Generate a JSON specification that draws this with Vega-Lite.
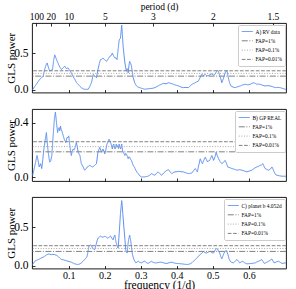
{
  "$schema": "https://vega.github.io/schema/vega-lite/v6.json",
  "padding": {"left": 5, "top": 0, "right": 0, "bottom": 0},
  "spacing": 12,
  "datasets": {
    "a": [
      {"f":0.000,"p":0.0},{"f":0.005,"p":0.04},{"f":0.010,"p":0.073},{"f":0.015,"p":0.11},{"f":0.019,"p":0.14},{"f":0.024,"p":0.16},{"f":0.029,"p":0.186},{"f":0.033,"p":0.277},{"f":0.037,"p":0.34},{"f":0.040,"p":0.368},{"f":0.044,"p":0.3},{"f":0.047,"p":0.255},{"f":0.051,"p":0.27},{"f":0.055,"p":0.277},{"f":0.058,"p":0.4},{"f":0.061,"p":0.48},{"f":0.065,"p":0.43},{"f":0.070,"p":0.368},{"f":0.075,"p":0.31},{"f":0.080,"p":0.277},{"f":0.084,"p":0.3},{"f":0.089,"p":0.323},{"f":0.093,"p":0.29},{"f":0.098,"p":0.3},{"f":0.102,"p":0.27},{"f":0.107,"p":0.232},{"f":0.112,"p":0.18},{"f":0.117,"p":0.14},{"f":0.121,"p":0.1},{"f":0.126,"p":0.073},{"f":0.131,"p":0.045},{"f":0.135,"p":0.027},{"f":0.140,"p":0.01},{"f":0.144,"p":0.005},{"f":0.149,"p":0.004},{"f":0.154,"p":0.005},{"f":0.158,"p":0.04},{"f":0.163,"p":0.095},{"f":0.168,"p":0.21},{"f":0.172,"p":0.19},{"f":0.177,"p":0.164},{"f":0.181,"p":0.277},{"f":0.185,"p":0.36},{"f":0.188,"p":0.414},{"f":0.192,"p":0.42},{"f":0.195,"p":0.436},{"f":0.200,"p":0.41},{"f":0.205,"p":0.39},{"f":0.210,"p":0.43},{"f":0.214,"p":0.459},{"f":0.218,"p":0.47},{"f":0.221,"p":0.505},{"f":0.225,"p":0.46},{"f":0.228,"p":0.436},{"f":0.231,"p":0.44},{"f":0.234,"p":0.414},{"f":0.237,"p":0.55},{"f":0.240,"p":0.686},{"f":0.2435,"p":0.71},{"f":0.247,"p":0.89},{"f":0.249,"p":0.75},{"f":0.251,"p":0.595},{"f":0.254,"p":0.45},{"f":0.256,"p":0.368},{"f":0.258,"p":0.3},{"f":0.260,"p":0.255},{"f":0.262,"p":0.29},{"f":0.265,"p":0.232},{"f":0.267,"p":0.33},{"f":0.269,"p":0.39},{"f":0.272,"p":0.36},{"f":0.274,"p":0.323},{"f":0.277,"p":0.23},{"f":0.279,"p":0.164},{"f":0.283,"p":0.095},{"f":0.288,"p":0.05},{"f":0.292,"p":0.035},{"f":0.297,"p":0.027},{"f":0.304,"p":0.015},{"f":0.311,"p":0.005},{"f":0.318,"p":0.01},{"f":0.325,"p":0.014},{"f":0.335,"p":0.02},{"f":0.344,"p":0.04},{"f":0.353,"p":0.065},{"f":0.363,"p":0.086},{"f":0.370,"p":0.08},{"f":0.377,"p":0.095},{"f":0.384,"p":0.085},{"f":0.391,"p":0.073},{"f":0.398,"p":0.06},{"f":0.405,"p":0.05},{"f":0.412,"p":0.035},{"f":0.418,"p":0.027},{"f":0.425,"p":0.03},{"f":0.432,"p":0.027},{"f":0.437,"p":0.05},{"f":0.442,"p":0.073},{"f":0.447,"p":0.085},{"f":0.451,"p":0.095},{"f":0.456,"p":0.11},{"f":0.460,"p":0.118},{"f":0.465,"p":0.17},{"f":0.469,"p":0.21},{"f":0.474,"p":0.195},{"f":0.479,"p":0.21},{"f":0.483,"p":0.19},{"f":0.488,"p":0.195},{"f":0.492,"p":0.205},{"f":0.497,"p":0.218},{"f":0.501,"p":0.2},{"f":0.506,"p":0.21},{"f":0.509,"p":0.24},{"f":0.513,"p":0.268},{"f":0.516,"p":0.24},{"f":0.518,"p":0.21},{"f":0.522,"p":0.15},{"f":0.525,"p":0.095},{"f":0.529,"p":0.15},{"f":0.534,"p":0.232},{"f":0.539,"p":0.268},{"f":0.543,"p":0.164},{"f":0.546,"p":0.1},{"f":0.550,"p":0.05},{"f":0.556,"p":0.035},{"f":0.562,"p":0.027},{"f":0.569,"p":0.04},{"f":0.576,"p":0.05},{"f":0.583,"p":0.065},{"f":0.590,"p":0.073},{"f":0.597,"p":0.065},{"f":0.604,"p":0.073},{"f":0.608,"p":0.085},{"f":0.613,"p":0.095},{"f":0.618,"p":0.085},{"f":0.622,"p":0.073},{"f":0.627,"p":0.078},{"f":0.631,"p":0.073},{"f":0.638,"p":0.06},{"f":0.645,"p":0.05},{"f":0.652,"p":0.055},{"f":0.659,"p":0.05},{"f":0.666,"p":0.04},{"f":0.673,"p":0.027},{"f":0.680,"p":0.03},{"f":0.687,"p":0.027},{"f":0.694,"p":0.015},{"f":0.701,"p":0.005},{"f":0.703,"p":0.005}
    ],
    "b": [
      {"f":0.000,"p":0.014},{"f":0.003,"p":0.05},{"f":0.008,"p":0.11},{"f":0.012,"p":0.159},{"f":0.015,"p":0.12},{"f":0.018,"p":0.075},{"f":0.022,"p":0.099},{"f":0.025,"p":0.063},{"f":0.028,"p":0.13},{"f":0.031,"p":0.207},{"f":0.035,"p":0.279},{"f":0.038,"p":0.327},{"f":0.040,"p":0.26},{"f":0.043,"p":0.183},{"f":0.047,"p":0.11},{"f":0.050,"p":0.12},{"f":0.053,"p":0.159},{"f":0.056,"p":0.279},{"f":0.060,"p":0.424},{"f":0.063,"p":0.477},{"f":0.066,"p":0.4},{"f":0.069,"p":0.327},{"f":0.071,"p":0.35},{"f":0.073,"p":0.363},{"f":0.075,"p":0.34},{"f":0.077,"p":0.375},{"f":0.079,"p":0.35},{"f":0.081,"p":0.339},{"f":0.084,"p":0.31},{"f":0.086,"p":0.291},{"f":0.089,"p":0.27},{"f":0.092,"p":0.255},{"f":0.095,"p":0.291},{"f":0.098,"p":0.29},{"f":0.100,"p":0.303},{"f":0.103,"p":0.231},{"f":0.107,"p":0.159},{"f":0.110,"p":0.19},{"f":0.112,"p":0.207},{"f":0.115,"p":0.2},{"f":0.118,"p":0.219},{"f":0.121,"p":0.255},{"f":0.124,"p":0.22},{"f":0.126,"p":0.183},{"f":0.131,"p":0.159},{"f":0.135,"p":0.099},{"f":0.140,"p":0.075},{"f":0.144,"p":0.051},{"f":0.148,"p":0.06},{"f":0.151,"p":0.075},{"f":0.155,"p":0.08},{"f":0.158,"p":0.087},{"f":0.162,"p":0.08},{"f":0.166,"p":0.075},{"f":0.169,"p":0.08},{"f":0.172,"p":0.087},{"f":0.177,"p":0.099},{"f":0.181,"p":0.183},{"f":0.186,"p":0.219},{"f":0.191,"p":0.183},{"f":0.195,"p":0.207},{"f":0.200,"p":0.171},{"f":0.203,"p":0.2},{"f":0.206,"p":0.243},{"f":0.209,"p":0.26},{"f":0.212,"p":0.279},{"f":0.216,"p":0.255},{"f":0.219,"p":0.23},{"f":0.221,"p":0.207},{"f":0.223,"p":0.235},{"f":0.225,"p":0.243},{"f":0.227,"p":0.215},{"f":0.229,"p":0.207},{"f":0.232,"p":0.243},{"f":0.234,"p":0.22},{"f":0.236,"p":0.231},{"f":0.238,"p":0.21},{"f":0.240,"p":0.243},{"f":0.242,"p":0.22},{"f":0.244,"p":0.207},{"f":0.247,"p":0.243},{"f":0.249,"p":0.2},{"f":0.251,"p":0.183},{"f":0.254,"p":0.17},{"f":0.256,"p":0.159},{"f":0.258,"p":0.175},{"f":0.260,"p":0.171},{"f":0.263,"p":0.15},{"f":0.265,"p":0.135},{"f":0.267,"p":0.15},{"f":0.269,"p":0.147},{"f":0.272,"p":0.13},{"f":0.274,"p":0.123},{"f":0.277,"p":0.1},{"f":0.279,"p":0.087},{"f":0.283,"p":0.07},{"f":0.286,"p":0.051},{"f":0.290,"p":0.035},{"f":0.293,"p":0.026},{"f":0.297,"p":0.01},{"f":0.302,"p":0.002},{"f":0.306,"p":0.002},{"f":0.311,"p":0.002},{"f":0.316,"p":0.005},{"f":0.320,"p":0.007},{"f":0.325,"p":0.015},{"f":0.330,"p":0.026},{"f":0.334,"p":0.02},{"f":0.339,"p":0.014},{"f":0.344,"p":0.03},{"f":0.348,"p":0.039},{"f":0.353,"p":0.025},{"f":0.358,"p":0.014},{"f":0.363,"p":0.03},{"f":0.367,"p":0.039},{"f":0.372,"p":0.05},{"f":0.377,"p":0.055},{"f":0.381,"p":0.04},{"f":0.386,"p":0.026},{"f":0.391,"p":0.035},{"f":0.395,"p":0.039},{"f":0.400,"p":0.04},{"f":0.405,"p":0.043},{"f":0.411,"p":0.04},{"f":0.418,"p":0.039},{"f":0.425,"p":0.032},{"f":0.432,"p":0.026},{"f":0.437,"p":0.028},{"f":0.442,"p":0.031},{"f":0.447,"p":0.05},{"f":0.451,"p":0.063},{"f":0.454,"p":0.05},{"f":0.457,"p":0.039},{"f":0.461,"p":0.09},{"f":0.465,"p":0.135},{"f":0.468,"p":0.115},{"f":0.471,"p":0.099},{"f":0.475,"p":0.125},{"f":0.479,"p":0.147},{"f":0.482,"p":0.13},{"f":0.485,"p":0.111},{"f":0.488,"p":0.12},{"f":0.491,"p":0.123},{"f":0.494,"p":0.14},{"f":0.497,"p":0.159},{"f":0.500,"p":0.14},{"f":0.502,"p":0.123},{"f":0.506,"p":0.15},{"f":0.509,"p":0.183},{"f":0.512,"p":0.16},{"f":0.516,"p":0.135},{"f":0.520,"p":0.115},{"f":0.525,"p":0.099},{"f":0.530,"p":0.11},{"f":0.534,"p":0.123},{"f":0.538,"p":0.1},{"f":0.541,"p":0.075},{"f":0.547,"p":0.07},{"f":0.553,"p":0.063},{"f":0.560,"p":0.058},{"f":0.567,"p":0.051},{"f":0.574,"p":0.055},{"f":0.581,"p":0.051},{"f":0.588,"p":0.045},{"f":0.594,"p":0.039},{"f":0.601,"p":0.045},{"f":0.608,"p":0.051},{"f":0.615,"p":0.065},{"f":0.622,"p":0.075},{"f":0.627,"p":0.08},{"f":0.631,"p":0.087},{"f":0.635,"p":0.09},{"f":0.639,"p":0.099},{"f":0.642,"p":0.08},{"f":0.645,"p":0.063},{"f":0.650,"p":0.057},{"f":0.655,"p":0.051},{"f":0.660,"p":0.06},{"f":0.664,"p":0.075},{"f":0.667,"p":0.06},{"f":0.670,"p":0.039},{"f":0.674,"p":0.02},{"f":0.678,"p":0.014},{"f":0.685,"p":0.01},{"f":0.692,"p":0.007},{"f":0.700,"p":0.007},{"f":0.703,"p":0.007}
    ],
    "c": [
      {"f":0.000,"p":0.017},{"f":0.006,"p":0.059},{"f":0.010,"p":0.07},{"f":0.015,"p":0.081},{"f":0.020,"p":0.09},{"f":0.024,"p":0.102},{"f":0.029,"p":0.11},{"f":0.033,"p":0.123},{"f":0.038,"p":0.14},{"f":0.043,"p":0.153},{"f":0.047,"p":0.15},{"f":0.052,"p":0.144},{"f":0.056,"p":0.148},{"f":0.061,"p":0.144},{"f":0.066,"p":0.135},{"f":0.070,"p":0.123},{"f":0.075,"p":0.1},{"f":0.080,"p":0.081},{"f":0.085,"p":0.078},{"f":0.089,"p":0.072},{"f":0.094,"p":0.065},{"f":0.098,"p":0.059},{"f":0.103,"p":0.052},{"f":0.107,"p":0.047},{"f":0.112,"p":0.035},{"f":0.117,"p":0.025},{"f":0.121,"p":0.02},{"f":0.126,"p":0.017},{"f":0.131,"p":0.025},{"f":0.135,"p":0.038},{"f":0.140,"p":0.06},{"f":0.144,"p":0.081},{"f":0.148,"p":0.1},{"f":0.151,"p":0.123},{"f":0.154,"p":0.2},{"f":0.156,"p":0.25},{"f":0.159,"p":0.265},{"f":0.161,"p":0.271},{"f":0.164,"p":0.25},{"f":0.166,"p":0.229},{"f":0.169,"p":0.215},{"f":0.172,"p":0.208},{"f":0.175,"p":0.26},{"f":0.177,"p":0.292},{"f":0.179,"p":0.33},{"f":0.181,"p":0.356},{"f":0.185,"p":0.37},{"f":0.188,"p":0.386},{"f":0.191,"p":0.375},{"f":0.195,"p":0.369},{"f":0.199,"p":0.38},{"f":0.203,"p":0.377},{"f":0.206,"p":0.365},{"f":0.209,"p":0.356},{"f":0.213,"p":0.375},{"f":0.216,"p":0.386},{"f":0.219,"p":0.36},{"f":0.223,"p":0.335},{"f":0.226,"p":0.38},{"f":0.228,"p":0.398},{"f":0.230,"p":0.34},{"f":0.232,"p":0.292},{"f":0.235,"p":0.25},{"f":0.237,"p":0.229},{"f":0.239,"p":0.35},{"f":0.240,"p":0.419},{"f":0.2435,"p":0.674},{"f":0.247,"p":0.843},{"f":0.2485,"p":0.78},{"f":0.250,"p":0.674},{"f":0.253,"p":0.504},{"f":0.256,"p":0.335},{"f":0.258,"p":0.208},{"f":0.260,"p":0.18},{"f":0.262,"p":0.165},{"f":0.264,"p":0.26},{"f":0.266,"p":0.335},{"f":0.269,"p":0.398},{"f":0.271,"p":0.35},{"f":0.273,"p":0.292},{"f":0.275,"p":0.2},{"f":0.277,"p":0.144},{"f":0.279,"p":0.11},{"f":0.281,"p":0.081},{"f":0.284,"p":0.055},{"f":0.286,"p":0.038},{"f":0.290,"p":0.05},{"f":0.293,"p":0.059},{"f":0.297,"p":0.045},{"f":0.302,"p":0.038},{"f":0.306,"p":0.05},{"f":0.311,"p":0.059},{"f":0.316,"p":0.04},{"f":0.320,"p":0.03},{"f":0.325,"p":0.045},{"f":0.330,"p":0.059},{"f":0.334,"p":0.045},{"f":0.339,"p":0.038},{"f":0.344,"p":0.038},{"f":0.351,"p":0.045},{"f":0.358,"p":0.047},{"f":0.365,"p":0.035},{"f":0.372,"p":0.03},{"f":0.379,"p":0.04},{"f":0.386,"p":0.047},{"f":0.393,"p":0.035},{"f":0.400,"p":0.03},{"f":0.407,"p":0.028},{"f":0.414,"p":0.025},{"f":0.421,"p":0.02},{"f":0.428,"p":0.017},{"f":0.433,"p":0.02},{"f":0.437,"p":0.025},{"f":0.442,"p":0.04},{"f":0.446,"p":0.059},{"f":0.451,"p":0.08},{"f":0.456,"p":0.102},{"f":0.460,"p":0.125},{"f":0.465,"p":0.144},{"f":0.469,"p":0.165},{"f":0.474,"p":0.186},{"f":0.478,"p":0.17},{"f":0.483,"p":0.165},{"f":0.488,"p":0.18},{"f":0.493,"p":0.186},{"f":0.497,"p":0.17},{"f":0.502,"p":0.165},{"f":0.507,"p":0.208},{"f":0.510,"p":0.22},{"f":0.513,"p":0.216},{"f":0.516,"p":0.19},{"f":0.519,"p":0.165},{"f":0.522,"p":0.12},{"f":0.525,"p":0.089},{"f":0.528,"p":0.13},{"f":0.531,"p":0.165},{"f":0.534,"p":0.185},{"f":0.537,"p":0.199},{"f":0.540,"p":0.17},{"f":0.542,"p":0.144},{"f":0.545,"p":0.09},{"f":0.548,"p":0.059},{"f":0.552,"p":0.045},{"f":0.557,"p":0.038},{"f":0.562,"p":0.06},{"f":0.567,"p":0.081},{"f":0.571,"p":0.06},{"f":0.574,"p":0.038},{"f":0.579,"p":0.05},{"f":0.583,"p":0.059},{"f":0.588,"p":0.04},{"f":0.594,"p":0.025},{"f":0.601,"p":0.028},{"f":0.608,"p":0.03},{"f":0.613,"p":0.035},{"f":0.618,"p":0.038},{"f":0.622,"p":0.05},{"f":0.627,"p":0.059},{"f":0.632,"p":0.07},{"f":0.636,"p":0.081},{"f":0.640,"p":0.05},{"f":0.643,"p":0.03},{"f":0.649,"p":0.045},{"f":0.655,"p":0.059},{"f":0.660,"p":0.075},{"f":0.664,"p":0.089},{"f":0.667,"p":0.06},{"f":0.670,"p":0.038},{"f":0.676,"p":0.05},{"f":0.682,"p":0.059},{"f":0.687,"p":0.045},{"f":0.692,"p":0.03},{"f":0.698,"p":0.035},{"f":0.703,"p":0.038}
    ],
    "fap": [
      {"s":"FAP=1%","v":0.186},
      {"s":"FAP=0.1%","v":0.224},
      {"s":"FAP=0.01%","v":0.26}
    ]
  },
  "resolve": {"scale": {"color": "independent", "strokeDash": "independent"}},
  "vconcat": [
    {
      "width": 254, "height": 69.5,
      "layer": [
        {
          "data": {"name": "a"},
          "mark": {"type": "line", "strokeWidth": 1, "clip": true},
          "encoding": {
            "x": {"field": "f", "type": "quantitative", "scale": {"domain": [-0.002, 0.703], "nice": false, "zero": false},
                  "axis": {"orient": "bottom", "values": [0.1,0.2,0.3,0.4,0.5,0.6], "labels": false, "title": null}},
            "y": {"field": "p", "type": "quantitative", "scale": {"domain": [-0.04, 0.92], "nice": false, "zero": false},
                  "axis": {"values": [0, 0.5], "format": ".1f", "title": "GLS power"}},
            "color": {"datum": "A) RV data", "type": "nominal",
                      "scale": {"domain": ["A) RV data","FAP=1%","FAP=0.1%","FAP=0.01%"], "range": ["#5b8ff0","#808080","#a8a8a8","#808080"]},
                      "legend": {"title": null, "orient": "top-right", "offset": 1.5, "padding": 3, "symbolType": "M-1,0H3", "symbolSize": 30, "symbolStrokeWidth": 1, "labelFontSize": 5.4, "labelOffset": 7.5, "rowPadding": 2.3, "strokeColor": "#cccccc", "fillColor": "#ffffff", "cornerRadius": 1.5, "labelFont": "Liberation Serif", "labelColor": "#000"}},
            "strokeDash": {"datum": "A) RV data", "type": "nominal",
                      "scale": {"domain": ["A) RV data","FAP=1%","FAP=0.1%","FAP=0.01%"], "range": [[1,0],[6,1.6,1,1.6],[1,1.6],[3.7,1.6]]},
                      "legend": {"title": null}}
          }
        },
        {
          "data": {"name": "fap"},
          "mark": {"type": "rule", "strokeWidth": 1},
          "encoding": {
            "y": {"field": "v", "type": "quantitative"},
            "color": {"field": "s", "type": "nominal", "legend": {"title": null}},
            "strokeDash": {"field": "s", "type": "nominal", "legend": {"title": null}}
          }
        },
        {
          "data": {"name": "a"},
          "mark": {"type": "point", "opacity": 0},
          "encoding": {
            "x": {"field": "f", "type": "quantitative",
                  "axis": {"orient": "top", "values": [0.01,0.05,0.1,0.2,0.33333,0.5,0.66667], "labelExpr": "round(10/datum.value)/10", "title": "period (d)", "labelFontSize": 9.5, "titleFontSize": 9.5, "labelPadding": 5, "titlePadding": 0}}
          }
        }
      ]
    },
    {
      "width": 254, "height": 72,
      "layer": [
        {
          "data": {"name": "b"},
          "mark": {"type": "line", "strokeWidth": 1, "clip": true},
          "encoding": {
            "x": {"field": "f", "type": "quantitative", "scale": {"domain": [-0.002, 0.703], "nice": false, "zero": false},
                  "axis": {"orient": "bottom", "values": [0.1,0.2,0.3,0.4,0.5,0.6], "labels": false, "title": null}},
            "y": {"field": "p", "type": "quantitative", "scale": {"domain": [-0.028, 0.5], "nice": false, "zero": false},
                  "axis": {"values": [0, 0.2, 0.4], "format": ".1f", "title": "GLS power"}},
            "color": {"datum": "B) GP REAL", "type": "nominal",
                      "scale": {"domain": ["B) GP REAL","FAP=1%","FAP=0.1%","FAP=0.01%"], "range": ["#5b8ff0","#808080","#a8a8a8","#808080"]},
                      "legend": {"title": null, "orient": "top-right", "offset": 1.5, "padding": 3, "symbolType": "M-1,0H3", "symbolSize": 30, "symbolStrokeWidth": 1, "labelFontSize": 5.4, "labelOffset": 7.5, "rowPadding": 2.3, "strokeColor": "#cccccc", "fillColor": "#ffffff", "cornerRadius": 1.5, "labelFont": "Liberation Serif", "labelColor": "#000"}},
            "strokeDash": {"datum": "B) GP REAL", "type": "nominal",
                      "scale": {"domain": ["B) GP REAL","FAP=1%","FAP=0.1%","FAP=0.01%"], "range": [[1,0],[6,1.6,1,1.6],[1,1.6],[3.7,1.6]]},
                      "legend": {"title": null}}
          }
        },
        {
          "data": {"name": "fap"},
          "mark": {"type": "rule", "strokeWidth": 1},
          "encoding": {
            "y": {"field": "v", "type": "quantitative"},
            "color": {"field": "s", "type": "nominal", "legend": {"title": null}},
            "strokeDash": {"field": "s", "type": "nominal", "legend": {"title": null}}
          }
        }
      ]
    },
    {
      "width": 254, "height": 71.5,
      "layer": [
        {
          "data": {"name": "c"},
          "mark": {"type": "line", "strokeWidth": 1, "clip": true},
          "encoding": {
            "x": {"field": "f", "type": "quantitative", "scale": {"domain": [-0.002, 0.703], "nice": false, "zero": false},
                  "axis": {"orient": "bottom", "values": [0.1,0.2,0.3,0.4,0.5,0.6], "format": ".1f", "title": "frequency (1/d)", "labelFontSize": 10, "titleFontSize": 11.5, "labelPadding": 4.5, "titleY": 11, "titleBaseline": "top"}},
            "y": {"field": "p", "type": "quantitative", "scale": {"domain": [-0.035, 0.89], "nice": false, "zero": false},
                  "axis": {"values": [0, 0.5], "format": ".1f", "title": "GLS power"}},
            "color": {"datum": "C) planet b 4.052d", "type": "nominal",
                      "scale": {"domain": ["C) planet b 4.052d","FAP=1%","FAP=0.1%","FAP=0.01%"], "range": ["#5b8ff0","#808080","#a8a8a8","#808080"]},
                      "legend": {"title": null, "orient": "top-right", "offset": 1.5, "padding": 3, "symbolType": "M-1,0H3", "symbolSize": 30, "symbolStrokeWidth": 1, "labelFontSize": 5.4, "labelOffset": 7.5, "rowPadding": 2.3, "strokeColor": "#cccccc", "fillColor": "#ffffff", "cornerRadius": 1.5, "labelFont": "Liberation Serif", "labelColor": "#000"}},
            "strokeDash": {"datum": "C) planet b 4.052d", "type": "nominal",
                      "scale": {"domain": ["C) planet b 4.052d","FAP=1%","FAP=0.1%","FAP=0.01%"], "range": [[1,0],[6,1.6,1,1.6],[1,1.6],[3.7,1.6]]},
                      "legend": {"title": null}}
          }
        },
        {
          "data": {"name": "fap"},
          "mark": {"type": "rule", "strokeWidth": 1},
          "encoding": {
            "y": {"field": "v", "type": "quantitative"},
            "color": {"field": "s", "type": "nominal", "legend": {"title": null}},
            "strokeDash": {"field": "s", "type": "nominal", "legend": {"title": null}}
          }
        }
      ]
    }
  ],
  "config": {
    "font": "Liberation Serif",
    "view": {"stroke": "#000000", "strokeWidth": 0.9},
    "axis": {
      "domain": false, "grid": false, "tickColor": "#000", "tickSize": -3, "tickWidth": 0.8,
      "labelColor": "#000", "titleColor": "#000", "labelFont": "Liberation Serif", "titleFont": "Liberation Serif",
      "titleFontWeight": "normal", "labelFontSize": 11.5, "titleFontSize": 11, "labelPadding": 7, "titlePadding": -3
    }
  }
}
